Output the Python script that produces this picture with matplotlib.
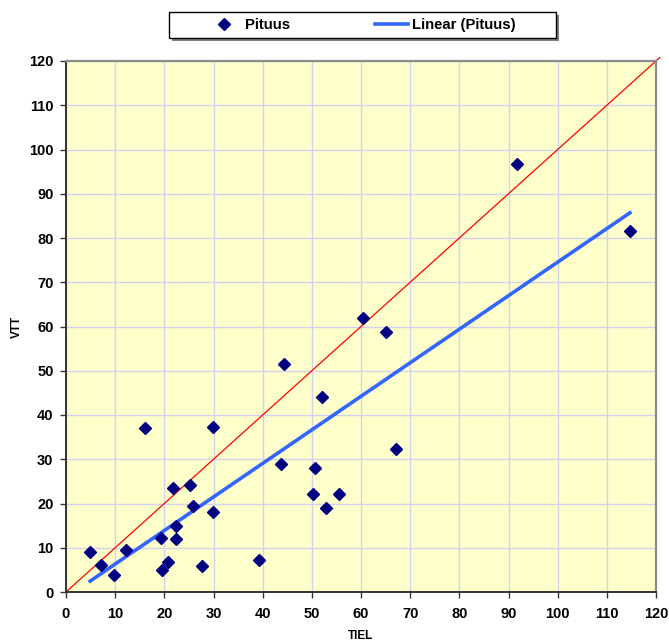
import numpy as np
import matplotlib.pyplot as plt
from matplotlib.patches import Rectangle

plt.rcParams['font.family'] = ['Liberation Sans', 'DejaVu Sans']
plt.rcParams['font.weight'] = 'bold'
plt.rcParams['axes.labelweight'] = 'bold'

# Tree height measurements: TIEL vs VTT
tiel = [4.9, 7.1, 9.8, 12.2, 16.1, 19.3, 19.5, 20.7, 21.8, 22.4, 22.4, 25.2, 25.8,
        27.7, 29.9, 29.9, 39.3, 44.3, 43.7, 50.2, 50.6, 52.1, 52.9, 55.5, 60.4,
        65.1, 67.1, 91.7, 114.7]
vtt = [9.0, 6.1, 3.8, 9.6, 37.1, 12.3, 5.0, 6.8, 23.5, 14.9, 11.9, 24.2, 19.5,
       5.8, 37.3, 18.0, 7.2, 51.5, 28.9, 22.1, 28.0, 44.1, 19.0, 22.1, 61.9,
       58.8, 32.3, 96.7, 81.6]

ticks = list(range(0, 121, 10))

W, H = 669, 643
fig = plt.figure(figsize=(W / 100, H / 100), dpi=100)
ax = fig.add_axes([66 / W, 51 / H, 590 / W, 531 / H])
ax.set_facecolor('#FFFFCC')

ax.set_xlim(0, 120)
ax.set_ylim(0, 120)
ax.set_xticks(ticks)
ax.set_yticks(ticks)
ax.grid(True, color='#D2D2EC', linewidth=1)
ax.set_axisbelow(True)

# 1:1 reference line
ax.plot([0, 120.8], [0, 120.8], color='red', linewidth=0.9, zorder=2, clip_on=False)

# least squares trend
slope, icpt = np.polyfit(tiel, vtt, 1)
xs = np.array([min(tiel), max(tiel)])
ax.plot(xs, slope * xs + icpt, color='#3366FF', linewidth=2.6, zorder=3,
        label='Linear (Pituus)')

ax.plot(tiel, vtt, linestyle='none', marker='D', markersize=5.8,
        color='#000080', zorder=4, label='Pituus')

for side in ('top', 'right'):
    ax.spines[side].set_color('#8C8C8C')
    ax.spines[side].set_linewidth(1.6)
for side in ('left', 'bottom'):
    ax.spines[side].set_color('#333333')
    ax.spines[side].set_linewidth(1.4)

ax.tick_params(direction='out', length=4, width=1, labelsize=10.5, color='#333333')
ax.tick_params(axis='x', pad=7)
ax.tick_params(axis='y', pad=5)

ax.set_xlabel('TIEL', fontsize=8.5, fontweight='bold', va='center')
ax.set_ylabel('VTT', fontsize=8.5, fontweight='bold', va='center')
ax.xaxis.set_label_coords(0.5, (592 - 636) / 531)
ax.yaxis.set_label_coords((16.5 - 66) / 590, 0.5)

# legend box with drop shadow
fig.patches.append(Rectangle(((169 + 3) / W, 1 - (38 + 3) / H), 387 / W, 26 / H,
                             transform=fig.transFigure, facecolor='#808080',
                             edgecolor='none', zorder=0))
fig.patches.append(Rectangle((169 / W, 1 - 38 / H), 387 / W, 26 / H,
                             transform=fig.transFigure, facecolor='white',
                             edgecolor='black', linewidth=1, zorder=1))

handles, labels = ax.get_legend_handles_labels()
leg = fig.legend(handles[::-1], labels[::-1], ncol=2, loc='center',
                 bbox_to_anchor=(362 / W, 1 - 25 / H), fontsize=10.7,
                 frameon=False, columnspacing=5.7, handlelength=2.2,
                 handletextpad=0.3, borderpad=0)
leg.set_zorder(5)

fig.savefig('out.png', dpi=100)
